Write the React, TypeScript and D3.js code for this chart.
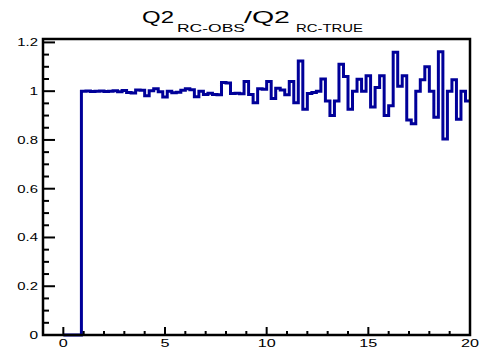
import React, { useEffect, useRef } from "react";
import * as d3 from "d3";

// Histogram: 90 bins from 0 to 20
const xLow = 0;
const xHigh = 20;
const nBins = 90;
const binValues: number[] = [
  0, 0, 0, 0,
  1.000, 1.001, 0.999, 1.000, 1.001, 0.999, 1.000, 1.002, 0.998, 1.003,
  0.995, 0.993, 1.005, 1.004, 0.981, 1.002, 1.010, 0.998, 0.976, 1.000,
  0.994, 0.996, 1.004, 1.010, 1.006, 0.977, 1.000, 0.986, 0.992, 0.986,
  0.985, 1.036, 1.034, 0.990, 0.992, 0.989, 1.040, 0.986, 0.953, 1.010,
  1.008, 1.040, 0.970, 1.012, 1.005, 0.985, 1.040, 0.953, 1.124, 0.926,
  0.990, 0.995, 1.000, 1.050, 0.960, 0.900, 0.960, 1.110, 1.060, 0.926,
  1.000, 1.049, 1.000, 1.063, 0.935, 1.015, 1.063, 0.900, 0.940, 1.160,
  1.020, 1.063, 0.882, 0.866, 1.000, 1.047, 1.100, 1.000, 0.893, 1.162,
  0.804, 1.000, 1.047, 0.885, 1.000, 0.960,
];
const xTickMajor = [0, 5, 10, 15, 20];
const xTickMinor = d3.range(0, 21, 1);
const yTickMajor = [0, 0.2, 0.4, 0.6, 0.8, 1, 1.2];
const yTickMinor = d3.range(0, 1.2001, 0.05);
const xDomain = [-1, 20];
const yDomain = [0, 1.214];

const FONT = "'Liberation Sans', Arial, Helvetica, sans-serif";

export default function App() {
  const ref = useRef<SVGSVGElement>(null);
  useEffect(() => {
    const svg = d3.select(ref.current!);
    svg.selectAll("*").remove();
    const W = 482, H = 351;
    const L = 43, R = 470, T = 39, B = 335;
    const x = d3.scaleLinear().domain(xDomain).range([L, R]);
    const y = d3.scaleLinear().domain(yDomain).range([B, T]);

    svg.append("rect").attr("width", W).attr("height", H).attr("fill", "white");

    // histogram
    const bw = (xHigh - xLow) / nBins;
    const pts: [number, number][] = binValues.map((v, i) => [xLow + i * bw, v]);
    pts.push([xHigh, binValues[binValues.length - 1]]);
    const line = d3.line<[number, number]>()
      .x(d => x(d[0]))
      .y(d => y(d[1]))
      .curve(d3.curveStepAfter);
    svg.append("path")
      .attr("d", line(pts)!)
      .attr("fill", "none")
      .attr("stroke", "#000099")
      .attr("stroke-width", 3);

    // frame
    svg.append("rect")
      .attr("x", L).attr("y", T).attr("width", R - L).attr("height", B - T)
      .attr("fill", "none").attr("stroke", "black").attr("stroke-width", 2.5);

    // x ticks
    xTickMinor.forEach(t => {
      const major = xTickMajor.includes(t);
      svg.append("line")
        .attr("x1", x(t)).attr("x2", x(t))
        .attr("y1", B).attr("y2", B - (major ? 8 : 4))
        .attr("stroke", "black").attr("stroke-width", 2);
    });
    xTickMajor.forEach(t => {
      const s = String(t);
      svg.append("text")
        .attr("x", x(t)).attr("y", 347)
        .attr("text-anchor", "middle")
        .attr("font-family", FONT).attr("font-size", 10.5)
        .attr("textLength", s.length * 9)
        .attr("lengthAdjust", "spacingAndGlyphs")
        .text(s);
    });

    // y ticks
    yTickMinor.forEach(t => {
      const major = yTickMajor.some(m => Math.abs(m - t) < 1e-6);
      svg.append("line")
        .attr("x1", L).attr("x2", L + (major ? 12 : 6))
        .attr("y1", y(t)).attr("y2", y(t))
        .attr("stroke", "black").attr("stroke-width", 2);
    });
    yTickMajor.forEach(t => {
      const s = t === 0 ? "0" : d3.format("~g")(t);
      const w = s.replace(".", "").length * 8.6 + (s.includes(".") ? 3.5 : 0);
      svg.append("text")
        .attr("x", 38).attr("y", y(t) + 4)
        .attr("text-anchor", "end")
        .attr("font-family", FONT).attr("font-size", 10.5)
        .attr("textLength", w)
        .attr("lengthAdjust", "spacingAndGlyphs")
        .text(s);
    });

    // title
    const title: [string, number, number, number, number][] = [
      ["Q2", 142, 23, 17, 32],
      ["RC-OBS", 177, 32, 11.5, 68],
      ["/Q2", 244, 23, 17, 46],
      ["RC-TRUE", 296, 32, 11.5, 67],
    ];
    title.forEach(([s, tx, ty, fs, tl]) => {
      svg.append("text")
        .attr("x", tx).attr("y", ty)
        .attr("font-family", FONT).attr("font-size", fs)
        .attr("textLength", tl)
        .attr("lengthAdjust", "spacingAndGlyphs")
        .text(s);
    });
  }, []);
  return (
    <svg
      ref={ref}
      width={482}
      height={351}
      style={{ position: "fixed", left: 0, top: 0, display: "block" }}
    />
  );
}
